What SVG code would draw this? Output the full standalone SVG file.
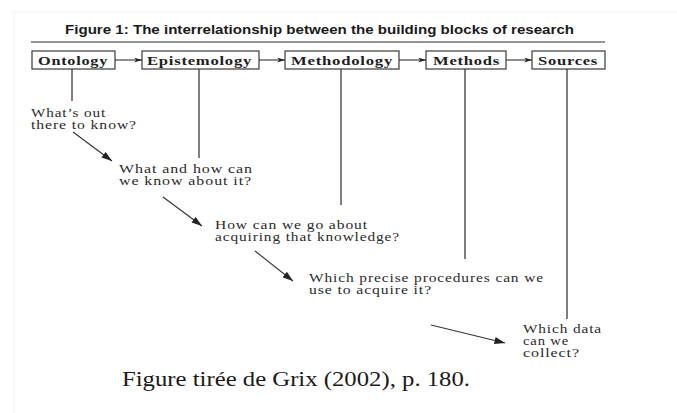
<svg xmlns="http://www.w3.org/2000/svg" width="677" height="413" viewBox="0 0 677 413">
  <style>
    .title { font-family: "Liberation Sans", Arial, sans-serif; font-weight: bold; font-size: 12.5px; fill: #1a1a1a; }
    .box { fill: #ffffff; stroke: #3a3a3a; stroke-width: 1.2; }
    .label { font-family: "Liberation Serif", "Times New Roman", serif; font-weight: bold; font-size: 13.5px; letter-spacing: 0.6px; fill: #1e1e1e; }
    .q { font-family: "Liberation Serif", "Times New Roman", serif; font-size: 12px; letter-spacing: 0.7px; fill: #2a2a2a; }
    .stem { stroke: #3a3a3a; stroke-width: 1.3; fill: none; }
    .link { stroke: #333333; stroke-width: 1.1; fill: none; }
    .caption { font-family: "Liberation Serif", "Times New Roman", serif; font-size: 21px; fill: #1a1a1a; }
  </style>
  <defs>
    <marker id="headSmall" viewBox="0 0 10 6" refX="10" refY="3" markerWidth="8" markerHeight="5" markerUnits="userSpaceOnUse" orient="auto">
      <path d="M0,0 L10,3 L0,6 L3,3 Z" fill="#222"/>
    </marker>
    <marker id="head" viewBox="0 0 12 8" refX="12" refY="4" markerWidth="11" markerHeight="7" markerUnits="userSpaceOnUse" orient="auto">
      <path d="M0,0 L12,4 L0,8 Z" fill="#222"/>
    </marker>
  </defs>

  <rect width="677" height="413" fill="#ffffff"/>
  <!-- page edge -->
  <path d="M14,12 L14,413 M14,12 L677,12" stroke="#efefef" stroke-width="1" fill="none"/>

  <!-- heading and rule -->
  <text class="title" x="65" y="34" textLength="509" lengthAdjust="spacingAndGlyphs">Figure 1:  The interrelationship between the building blocks of research</text>
  <line x1="31" y1="42" x2="605" y2="42" stroke="#2a2a2a" stroke-width="1.2"/>

  <!-- building blocks -->
  <g id="ontology">
    <rect class="box" x="32" y="51" width="83" height="18"/>
    <text class="label" x="38" y="64.5" textLength="70" lengthAdjust="spacingAndGlyphs">Ontology</text>
  </g>
  <g id="epistemology">
    <rect class="box" x="142" y="51" width="117" height="18"/>
    <text class="label" x="147" y="64.5" textLength="105" lengthAdjust="spacingAndGlyphs">Epistemology</text>
  </g>
  <g id="methodology">
    <rect class="box" x="285" y="51" width="114" height="18"/>
    <text class="label" x="291" y="64.5" textLength="102" lengthAdjust="spacingAndGlyphs">Methodology</text>
  </g>
  <g id="methods">
    <rect class="box" x="426" y="51" width="80" height="18"/>
    <text class="label" x="433" y="64.5" textLength="67" lengthAdjust="spacingAndGlyphs">Methods</text>
  </g>
  <g id="sources">
    <rect class="box" x="532" y="51" width="73" height="18"/>
    <text class="label" x="538" y="64.5" textLength="60" lengthAdjust="spacingAndGlyphs">Sources</text>
  </g>

  <!-- questions -->
  <g id="q-ontology">
    <text class="q" x="31" y="117" textLength="75" lengthAdjust="spacingAndGlyphs">What’s out</text>
    <text class="q" x="31" y="128.5" textLength="106" lengthAdjust="spacingAndGlyphs">there to know?</text>
  </g>
  <g id="q-epistemology">
    <text class="q" x="119" y="173" textLength="134" lengthAdjust="spacingAndGlyphs">What and how can</text>
    <text class="q" x="119" y="184.5" textLength="133" lengthAdjust="spacingAndGlyphs">we know about it?</text>
  </g>
  <g id="q-methodology">
    <text class="q" x="215" y="229" textLength="153" lengthAdjust="spacingAndGlyphs">How can we go about</text>
    <text class="q" x="215" y="241" textLength="185" lengthAdjust="spacingAndGlyphs">acquiring that knowledge?</text>
  </g>
  <g id="q-methods">
    <text class="q" x="309" y="282" textLength="235" lengthAdjust="spacingAndGlyphs">Which precise procedures can we</text>
    <text class="q" x="309" y="293.5" textLength="123" lengthAdjust="spacingAndGlyphs">use to acquire it?</text>
  </g>
  <g id="q-sources">
    <text class="q" x="523" y="333" textLength="79" lengthAdjust="spacingAndGlyphs">Which data</text>
    <text class="q" x="523" y="345" textLength="46" lengthAdjust="spacingAndGlyphs">can we</text>
    <text class="q" x="523" y="357" textLength="57" lengthAdjust="spacingAndGlyphs">collect?</text>
  </g>

  <!-- connectors -->
  <g id="connectors">
    <!-- block to block -->
    <line class="link" x1="115" y1="60" x2="142" y2="60" marker-end="url(#headSmall)"/>
    <line class="link" x1="259" y1="60" x2="285" y2="60" marker-end="url(#headSmall)"/>
    <line class="link" x1="399" y1="60" x2="426" y2="60" marker-end="url(#headSmall)"/>
    <line class="link" x1="506" y1="60" x2="532" y2="60" marker-end="url(#headSmall)"/>
    <!-- stems from blocks -->
    <line class="stem" x1="72" y1="69" x2="72" y2="101"/>
    <line class="stem" x1="199" y1="69" x2="199" y2="158"/>
    <line class="stem" x1="341" y1="69" x2="341" y2="205"/>
    <line class="stem" x1="465" y1="69" x2="465" y2="259"/>
    <line class="stem" x1="567" y1="69" x2="567" y2="319"/>
    <!-- question to question -->
    <line class="link" x1="73" y1="132" x2="112" y2="161" marker-end="url(#head)"/>
    <line class="link" x1="163" y1="197" x2="202" y2="226" marker-end="url(#head)"/>
    <line class="link" x1="255" y1="251" x2="293" y2="281" marker-end="url(#head)"/>
    <line class="link" x1="431" y1="325" x2="505" y2="343" marker-end="url(#head)"/>
  </g>

  <text class="caption" x="122" y="386" textLength="348" lengthAdjust="spacingAndGlyphs">Figure tirée de Grix (2002), p. 180.</text>
</svg>
